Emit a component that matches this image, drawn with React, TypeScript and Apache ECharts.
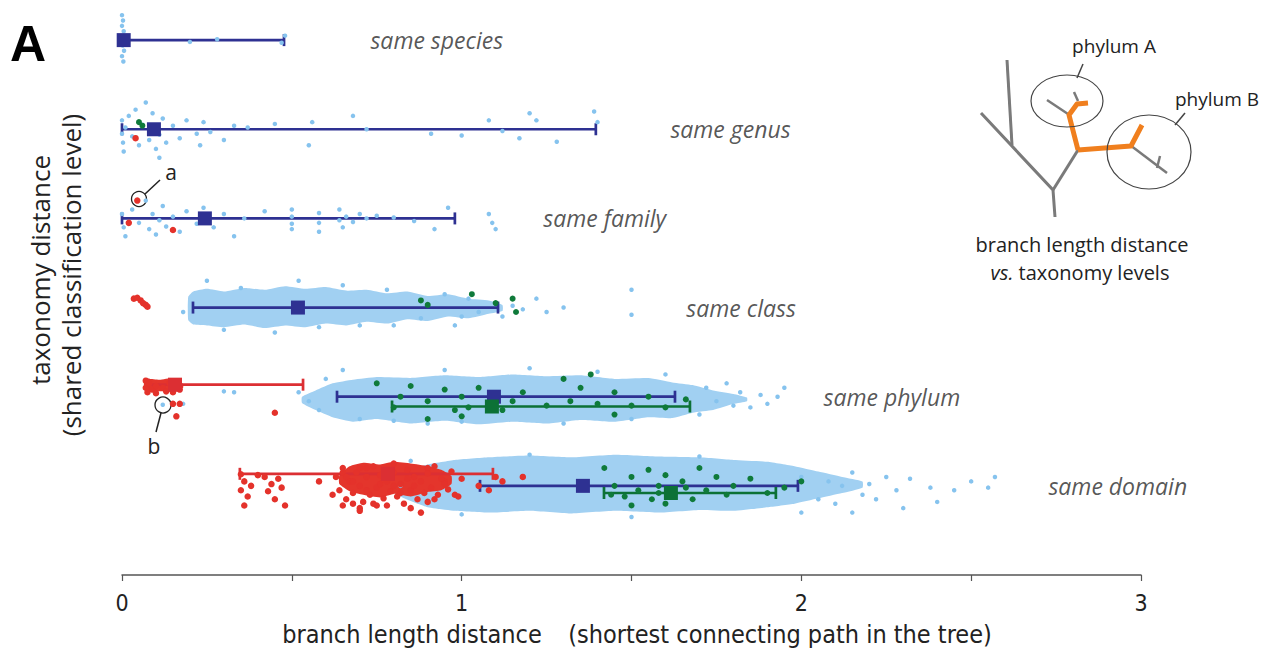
import React, { useEffect, useRef } from "react";
import * as echarts from "echarts";

// ---------- data ----------
const ROW_LABELS = ["same species", "same genus", "same family", "same class", "same phylum", "same domain"];
const ROW_LABEL_X = [0.73, 1.613, 1.239, 1.66, 2.064, 2.726];
const X_TICKS = [0, 0.5, 1, 1.5, 2, 2.5, 3];

// error bars: [low, high, row, colour index] (0 navy, 1 red, 2 green)
const BAR_LOW = [0.0, 0.0, 0.0, 0.209, 0.077, 0.633, 0.795, 0.347, 1.054, 1.419];
const BAR_HIGH = [0.477, 1.395, 0.98, 1.107, 0.533, 1.628, 1.672, 1.092, 1.99, 1.925];
const BAR_ROW = [0, 1, 2, 3, 3.865, 4, 4.11, 4.865, 5, 5.08];
const BAR_KIND = [0, 0, 0, 0, 1, 0, 2, 1, 0, 2];
const MEANS = [0.005, 0.094, 0.244, 0.518, 0.156, 1.095, 1.089, 0.783, 1.357, 1.616];

// dense clouds: centre row, colour, envelope [x, extent above, extent below] in rows
const BAND_ROW = [3, 4.03, 4.98, 4.93, 3.88];
const BAND_KIND = [0, 0, 0, 1, 1];
const BAND_CLASS = [[0.195, 0.12, 0.14], [0.21, 0.18, 0.19], [0.25, 0.21, 0.2], [0.3, 0.18, 0.22], [0.36, 0.22, 0.19], [0.42, 0.2, 0.23], [0.48, 0.24, 0.2], [0.54, 0.21, 0.22], [0.6, 0.23, 0.18], [0.66, 0.19, 0.2], [0.72, 0.2, 0.16], [0.78, 0.16, 0.18], [0.84, 0.18, 0.13], [0.9, 0.13, 0.15], [0.96, 0.15, 0.1], [1.02, 0.1, 0.12], [1.08, 0.08, 0.07], [1.12, 0.03, 0.04]];
const BAND_PHYLUM = [[0.53, 0.03, 0.04], [0.57, 0.1, 0.12], [0.62, 0.18, 0.2], [0.68, 0.22, 0.25], [0.75, 0.25, 0.22], [0.85, 0.24, 0.27], [0.95, 0.27, 0.24], [1.05, 0.25, 0.28], [1.15, 0.28, 0.25], [1.25, 0.26, 0.27], [1.35, 0.27, 0.23], [1.45, 0.23, 0.25], [1.55, 0.24, 0.2], [1.62, 0.19, 0.21], [1.68, 0.16, 0.15], [1.74, 0.1, 0.12], [1.8, 0.06, 0.05], [1.84, 0.02, 0.02]];
const BAND_DOMAIN = [[0.78, 0.04, 0.05], [0.83, 0.14, 0.16], [0.9, 0.22, 0.26], [0.98, 0.27, 0.3], [1.08, 0.3, 0.32], [1.2, 0.32, 0.3], [1.32, 0.3, 0.33], [1.45, 0.33, 0.3], [1.58, 0.31, 0.32], [1.7, 0.3, 0.29], [1.8, 0.27, 0.3], [1.9, 0.25, 0.26], [1.98, 0.2, 0.22], [2.05, 0.14, 0.16], [2.12, 0.08, 0.1], [2.18, 0.03, 0.04]];
const BAND_RED_DOMAIN = [[0.64, 0.05, 0.05], [0.67, 0.15, 0.13], [0.71, 0.19, 0.17], [0.76, 0.17, 0.2], [0.8, 0.2, 0.16], [0.85, 0.18, 0.19], [0.9, 0.15, 0.14], [0.94, 0.11, 0.12], [0.97, 0.04, 0.05]];
const BAND_RED_PHYLUM = [[0.065, 0.05, 0.04], [0.075, 0.08, 0.07], [0.11, 0.07, 0.06], [0.15, 0.09, 0.07], [0.17, 0.06, 0.05], [0.18, 0.02, 0.02]];

// scattered points: [x, row offset]
const BLUE_SPECIES = [[0.0, -0.28], [0.003, -0.22], [0.0, -0.16], [0.005, -0.1], [0.002, 0.06], [0.006, 0.12], [0.0, 0.18], [0.004, 0.24], [0.012, 0.02], [0.2, 0.02], [0.28, -0.01], [0.47, 0.03], [0.48, -0.05]];
const BLUE_GENUS = [[0.0, -0.1], [0.0, 0.05], [0.003, 0.15], [0.005, 0.25], [0.01, -0.02], [0.02, -0.15], [0.03, 0.08], [0.04, -0.22], [0.05, 0.18], [0.06, -0.05], [0.07, -0.3], [0.08, 0.12], [0.09, -0.18], [0.1, 0.22], [0.11, 0.06], [0.12, -0.12], [0.13, 0.15], [0.11, 0.32], [0.15, -0.04], [0.17, 0.1], [0.19, -0.1], [0.22, 0.05], [0.24, -0.08], [0.23, 0.18], [0.26, 0.03], [0.3, 0.12], [0.33, -0.04], [0.37, -0.02], [0.45, -0.06], [0.55, 0.18], [0.56, -0.08], [0.68, -0.15], [0.72, 0.0], [0.91, 0.05], [1.0, 0.07], [1.08, -0.1], [1.12, 0.02], [1.17, 0.1], [1.2, -0.18], [1.22, -0.1], [1.28, 0.14], [1.39, -0.2], [1.4, -0.08]];
const BLUE_FAMILY = [[0.0, -0.05], [0.005, 0.1], [0.01, 0.2], [0.03, -0.1], [0.05, 0.05], [0.07, -0.2], [0.08, 0.12], [0.09, -0.05], [0.1, 0.18], [0.11, 0.02], [0.12, -0.14], [0.13, 0.09], [0.15, -0.02], [0.17, 0.15], [0.19, -0.08], [0.22, 0.06], [0.24, -0.12], [0.27, 0.1], [0.3, -0.05], [0.33, 0.2], [0.36, 0.0], [0.42, -0.08], [0.5, -0.1], [0.5, -0.02], [0.5, 0.06], [0.5, 0.12], [0.58, -0.06], [0.58, 0.05], [0.58, 0.15], [0.64, -0.1], [0.64, 0.02], [0.65, 0.1], [0.66, -0.02], [0.68, 0.04], [0.7, -0.05], [0.72, 0.0], [0.75, -0.03], [0.8, -0.01], [0.86, 0.03], [0.92, 0.12], [0.96, -0.12], [1.08, -0.05], [1.09, 0.05], [1.1, 0.12]];
const BLUE_CLASS = [[0.18, 0.05], [0.25, -0.3], [0.3, 0.25], [0.35, -0.22], [0.45, 0.28], [0.52, -0.3], [0.58, 0.22], [0.65, -0.25], [0.7, 0.2], [0.78, -0.2], [0.8, 0.2], [0.88, 0.12], [0.95, -0.15], [0.98, 0.2], [1.02, -0.1], [1.05, 0.05], [1.0, 0.1], [1.12, 0.1], [1.15, -0.02], [1.18, 0.02], [1.22, -0.1], [1.25, 0.05], [1.3, 0.0], [1.5, -0.2], [1.5, 0.08]];
const BLUE_PHYLUM = [[0.12, 0.09], [0.18, 0.08], [0.3, -0.06], [0.33, -0.05], [0.52, -0.05], [0.55, 0.05], [0.58, 0.15], [0.6, -0.2], [0.65, -0.3], [0.7, 0.25], [0.8, 0.27], [0.9, 0.3], [0.95, -0.3], [1.0, 0.28], [1.2, -0.32], [1.3, 0.3], [1.4, -0.28], [1.5, 0.25], [1.6, -0.25], [1.7, 0.2], [1.72, -0.1], [1.75, 0.05], [1.78, -0.15], [1.8, 0.1], [1.82, -0.05], [1.85, 0.12], [1.88, -0.02], [1.9, 0.08], [1.93, 0.0], [1.95, -0.1]];
const BLUE_DOMAIN = [[0.82, 0.0], [0.85, -0.28], [1.0, 0.32], [1.2, -0.35], [1.5, 0.35], [1.7, -0.33], [2.0, -0.1], [2.05, 0.15], [2.08, -0.05], [2.1, 0.2], [2.12, 0.0], [2.15, -0.15], [2.18, 0.1], [2.2, -0.02], [2.22, 0.15], [2.25, -0.1], [2.28, 0.05], [2.3, 0.25], [2.32, -0.08], [2.38, 0.02], [2.4, 0.18], [2.45, 0.05], [2.5, -0.05], [2.55, 0.02], [2.57, -0.1], [2.15, 0.3], [2.0, 0.3]];

const RED_GENUS = [[0.04, 0.1]];
const RED_FAMILY = [[0.045, -0.2], [0.02, 0.05], [0.15, 0.13]];
const RED_CLASS = [[0.035, -0.1], [0.045, -0.11], [0.055, -0.08], [0.062, -0.05], [0.07, -0.03], [0.075, -0.01]];
const RED_PHYLUM = [[0.07, -0.18], [0.07, -0.1], [0.075, -0.05], [0.08, -0.15], [0.09, -0.08], [0.1, -0.12], [0.1, -0.04], [0.12, -0.1], [0.13, -0.06], [0.14, -0.15], [0.15, -0.05], [0.16, -0.1], [0.17, -0.08], [0.15, 0.08], [0.17, 0.08], [0.16, 0.22], [0.45, 0.18]];
const RED_DOMAIN = [[0.35, -0.13], [0.36, -0.05], [0.35, 0.05], [0.37, 0.12], [0.36, 0.22], [0.38, 0.0], [0.4, -0.12], [0.42, -0.1], [0.44, -0.02], [0.43, 0.06], [0.45, 0.15], [0.47, 0.02], [0.46, -0.08], [0.48, 0.22], [0.58, -0.05], [0.62, 0.1], [0.65, -0.15], [0.68, 0.2], [0.72, -0.2], [0.75, 0.22], [0.8, -0.25], [0.85, 0.25], [0.9, -0.2], [0.92, 0.15], [0.95, -0.05], [0.98, 0.1], [1.0, -0.08], [1.05, 0.0], [1.08, 0.05], [1.1, -0.1], [1.12, -0.05], [1.18, -0.1], [0.88, 0.3], [0.7, 0.28],
  [0.63, -0.1], [0.64, 0.05], [0.65, -0.2], [0.66, 0.15], [0.67, -0.05], [0.68, 0.08], [0.69, -0.15], [0.7, 0.0], [0.71, 0.18], [0.72, -0.1], [0.73, 0.1], [0.74, -0.22], [0.75, 0.02], [0.76, -0.12], [0.77, 0.14], [0.78, -0.05], [0.79, 0.06], [0.8, -0.15], [0.81, 0.12], [0.82, -0.02], [0.83, 0.2], [0.84, -0.18], [0.85, 0.05], [0.86, -0.1], [0.87, 0.15], [0.88, -0.05], [0.89, 0.08], [0.9, -0.14], [0.91, 0.02], [0.92, -0.22], [0.93, 0.1], [0.94, -0.08], [0.96, 0.04], [0.97, -0.16], [0.99, 0.12], [0.66, -0.1], [0.7, -0.2], [0.74, 0.2], [0.78, 0.22], [0.82, 0.08], [0.76, -0.02], [0.72, 0.05], [0.68, -0.05], [0.86, 0.0], [0.8, 0.0], [0.84, -0.08], [0.9, 0.18], [0.95, -0.02], [0.65, 0.22], [0.7, 0.25]];

const GREEN_GENUS = [[0.05, -0.08], [0.06, -0.04]];
const GREEN_CLASS = [[0.88, -0.08], [0.9, -0.03], [1.03, -0.15], [1.1, -0.05], [1.15, -0.1], [1.16, 0.05]];
const GREEN_PHYLUM = [[0.8, 0.12], [0.82, 0.0], [0.85, -0.12], [0.9, 0.05], [0.95, -0.08], [0.98, 0.15], [1.0, 0.0], [1.02, 0.12], [1.05, -0.1], [1.08, 0.08], [1.12, 0.15], [1.15, 0.05], [1.18, -0.05], [1.25, 0.1], [1.3, -0.2], [1.32, 0.05], [1.35, -0.1], [1.4, 0.08], [1.45, -0.05], [1.5, 0.1], [1.55, 0.0], [1.6, 0.12], [1.66, 0.03], [0.75, -0.15], [1.0, 0.22], [0.9, 0.25], [1.38, -0.25], [1.45, 0.2]];
const GREEN_DOMAIN = [[1.42, -0.2], [1.45, 0.0], [1.48, 0.12], [1.5, -0.1], [1.52, 0.05], [1.55, -0.18], [1.56, 0.15], [1.58, 0.0], [1.6, -0.12], [1.62, 0.1], [1.65, -0.05], [1.68, 0.15], [1.7, -0.2], [1.72, 0.05], [1.75, -0.1], [1.78, 0.1], [1.8, 0.0], [1.85, -0.08], [1.9, 0.08], [1.95, 0.02], [2.0, -0.05], [1.6, 0.2], [1.5, 0.22], [1.44, 0.1], [1.66, 0.02], [1.58, 0.08]];

// ---------- styles ----------
const COLORS = ["#2e3192", "#dc2f33", "#0c7136"];
const BAND_COLORS = ["#a1d0f2", "#e4352c"];
const BLUE_PT = "#86c3ee";
const SANS = "'Open Sans', 'Noto Sans', sans-serif";
const NARROW = "'Liberation Sans Narrow', 'DejaVu Sans Condensed', sans-serif";

function place(rowPts: number[][][], rows: number[]) {
  const out: number[][] = [];
  rowPts.forEach((pts, i) => pts.forEach((p) => out.push([p[0], rows[i] + p[1]])));
  return out;
}

export default function App() {
  const ref = useRef<HTMLDivElement>(null);
  useEffect(() => {
    if (!ref.current) return;
    const chart = echarts.init(ref.current, null, { renderer: "svg" });
    const bands = [BAND_CLASS, BAND_PHYLUM, BAND_DOMAIN, BAND_RED_DOMAIN, BAND_RED_PHYLUM];
    const blue = place([BLUE_SPECIES, BLUE_GENUS, BLUE_FAMILY, BLUE_CLASS, BLUE_PHYLUM, BLUE_DOMAIN], [0, 1, 2, 3, 4, 5]);
    const red = place([RED_GENUS, RED_FAMILY, RED_CLASS, RED_PHYLUM, RED_DOMAIN], [1, 2, 3, 4, 5]);
    const green = place([GREEN_GENUS, GREEN_CLASS, GREEN_PHYLUM, GREEN_DOMAIN], [1, 3, 4, 5]);
    const bars = BAR_LOW.map((lo, i) => [lo, BAR_HIGH[i], BAR_ROW[i], BAR_KIND[i]]);
    const means = MEANS.map((m, i) => ({ value: [m, BAR_ROW[i]], itemStyle: { color: COLORS[BAR_KIND[i]], opacity: 1 } }));

    const gray = "#7a7a7a";
    const orange = "#f07f1e";
    const tree: any[] = [
      { type: "polyline", shape: { points: [[981, 113], [1053, 190], [1055, 217]] }, style: { stroke: gray, lineWidth: 3, fill: null } },
      { type: "line", shape: { x1: 1007, y1: 60, x2: 1012, y2: 145 }, style: { stroke: gray, lineWidth: 3 } },
      { type: "line", shape: { x1: 1053, y1: 190, x2: 1078, y2: 150 }, style: { stroke: gray, lineWidth: 3 } },
      { type: "line", shape: { x1: 1047, y1: 100, x2: 1068, y2: 114 }, style: { stroke: gray, lineWidth: 2.5 } },
      { type: "line", shape: { x1: 1074, y1: 92, x2: 1078, y2: 101 }, style: { stroke: gray, lineWidth: 2.5 } },
      { type: "line", shape: { x1: 1130, y1: 145, x2: 1167, y2: 173 }, style: { stroke: gray, lineWidth: 2.5 } },
      { type: "line", shape: { x1: 1160, y1: 156, x2: 1157, y2: 168 }, style: { stroke: gray, lineWidth: 2.5 } },
      { type: "polyline", shape: { points: [[1078, 150], [1069, 115], [1077, 104], [1088, 103]] }, style: { stroke: orange, lineWidth: 5, fill: null, lineJoin: "round" } },
      { type: "polyline", shape: { points: [[1078, 150], [1131, 146], [1142, 125]] }, style: { stroke: orange, lineWidth: 5, fill: null, lineJoin: "round" } },
      { type: "ellipse", shape: { cx: 1067, cy: 101, rx: 36, ry: 26 }, style: { stroke: "#444", lineWidth: 1.2, fill: null } },
      { type: "ellipse", shape: { cx: 1149, cy: 152, rx: 42, ry: 37 }, style: { stroke: "#444", lineWidth: 1.2, fill: null } },
      { type: "line", shape: { x1: 1077, y1: 78, x2: 1083, y2: 64 }, style: { stroke: "#444", lineWidth: 1.5 } },
      { type: "line", shape: { x1: 1175, y1: 125, x2: 1185, y2: 113 }, style: { stroke: "#444", lineWidth: 1.5 } },
      { type: "text", x: 1114, y: 46, style: { text: "phylum A", font: `19px ${SANS}`, fill: "#222", textAlign: "center", textVerticalAlign: "middle" } },
      { type: "text", x: 1217, y: 99, style: { text: "phylum B", font: `19px ${SANS}`, fill: "#222", textAlign: "center", textVerticalAlign: "middle" } },
      { type: "text", x: 1082, y: 244, style: { text: "branch length distance", font: `20px ${SANS}`, fill: "#222", textAlign: "center", textVerticalAlign: "middle" } },
      {
        type: "text", x: 1080, y: 272, style: {
          text: "{i|vs.} taxonomy levels", font: `20px ${SANS}`, fill: "#222", textAlign: "center", textVerticalAlign: "middle",
          rich: { i: { fontStyle: "italic", fontSize: 20, fontFamily: SANS, fill: "#222" } },
        },
      },
    ];

    const annotations: any[] = [
      { type: "text", x: 28, y: 44, style: { text: "A", font: `bold 50px 'Liberation Sans', Arial, sans-serif`, fill: "#000", textAlign: "center", textVerticalAlign: "middle" } },
      { type: "circle", shape: { cx: 139, cy: 199, r: 7.5 }, style: { stroke: "#222", lineWidth: 1.3, fill: null } },
      { type: "line", shape: { x1: 145, y1: 194, x2: 160, y2: 180 }, style: { stroke: "#222", lineWidth: 1.5 } },
      { type: "text", x: 171, y: 172, style: { text: "a", font: `21px ${SANS}`, fill: "#222", textAlign: "center", textVerticalAlign: "middle" } },
      { type: "circle", shape: { cx: 163, cy: 405, r: 8 }, style: { stroke: "#222", lineWidth: 1.3, fill: null } },
      { type: "line", shape: { x1: 161, y1: 413, x2: 156, y2: 432 }, style: { stroke: "#222", lineWidth: 1.5 } },
      { type: "text", x: 154, y: 446, style: { text: "b", font: `21px ${SANS}`, fill: "#222", textAlign: "center", textVerticalAlign: "middle" } },
      { type: "text", x: 40, y: 270, rotation: Math.PI / 2, style: { text: "taxonomy distance", font: `26px ${SANS}`, fill: "#222", textAlign: "center", textVerticalAlign: "middle" } },
      { type: "text", x: 71, y: 275, rotation: Math.PI / 2, style: { text: "(shared classification level)", font: `26px ${SANS}`, fill: "#222", textAlign: "center", textVerticalAlign: "middle" } },
      { type: "text", x: 412, y: 634, style: { text: "branch length distance", font: `25px ${NARROW}`, fill: "#222", textAlign: "center", textVerticalAlign: "middle" } },
      { type: "text", x: 780, y: 634, style: { text: "(shortest connecting path in the tree)", font: `25px ${NARROW}`, fill: "#222", textAlign: "center", textVerticalAlign: "middle" } },
    ];

    chart.setOption({
      animation: false,
      backgroundColor: "#ffffff",
      grid: { left: 122, right: 127, top: 0, bottom: 83, containLabel: false },
      xAxis: {
        type: "value", min: X_TICKS[0], max: X_TICKS[X_TICKS.length - 1], interval: 0.5, position: "bottom",
        axisLine: { show: true, onZero: false, lineStyle: { color: "#555", width: 1.5 } },
        axisTick: { show: true, length: 6, lineStyle: { color: "#555", width: 1.2 } },
        splitLine: { show: false },
        axisLabel: {
          margin: 16, fontSize: 23, color: "#222", fontFamily: NARROW,
          formatter: (v: number) => (Number.isInteger(v) ? String(v) : ""),
        },
      },
      yAxis: { type: "value", inverse: true, min: -0.45, max: 6, show: false },
      series: [
        {
          type: "custom", silent: true,
          data: bands.map((_, i) => [i, BAND_ROW[i]]),
          encode: { x: 0, y: 1 },
          renderItem: (params: any, api: any) => {
            const idx = api.value(0);
            const env = bands[idx];
            const row = BAND_ROW[idx];
            const top = env.map((p) => api.coord([p[0], row - p[1]]));
            const bottom = env.slice().reverse().map((p) => api.coord([p[0], row + p[2]]));
            return { type: "polygon", shape: { points: top.concat(bottom), smooth: 0.15 }, style: { fill: BAND_COLORS[BAND_KIND[idx]] } };
          },
        },
        { type: "scatter", data: blue, symbolSize: 4.5, itemStyle: { color: BLUE_PT, opacity: 1 }, silent: true },
        { type: "scatter", data: red, symbolSize: 6.5, itemStyle: { color: "#e4322b", opacity: 1 }, silent: true },
        { type: "scatter", data: green, symbolSize: 6, itemStyle: { color: "#0f7a3a", opacity: 1 }, silent: true },
        {
          type: "custom", silent: true, data: bars, encode: { x: [0, 1], y: 2 },
          renderItem: (params: any, api: any) => {
            const lo = api.coord([api.value(0), api.value(2)]);
            const hi = api.coord([api.value(1), api.value(2)]);
            const c = COLORS[api.value(3)];
            const s = { stroke: c, lineWidth: 2.7 };
            return {
              type: "group", children: [
                { type: "line", shape: { x1: lo[0], y1: lo[1], x2: hi[0], y2: hi[1] }, style: s },
                { type: "line", shape: { x1: lo[0], y1: lo[1] - 6, x2: lo[0], y2: lo[1] + 6 }, style: s },
                { type: "line", shape: { x1: hi[0], y1: hi[1] - 6, x2: hi[0], y2: hi[1] + 6 }, style: s },
              ],
            };
          },
        },
        { type: "scatter", data: means, symbol: "rect", symbolSize: 14, silent: true },
        {
          type: "scatter", silent: true, symbolSize: 1, itemStyle: { color: "rgba(0,0,0,0)" },
          data: ROW_LABELS.map((t, i) => [ROW_LABEL_X[i], i, t]),
          label: {
            show: true, position: "right", distance: 0, fontSize: 23, fontStyle: "italic",
            fontFamily: SANS, color: "#2b2b2b", formatter: (p: any) => p.data[2],
          },
        },
      ],
      graphic: tree.concat(annotations),
    });
    return () => chart.dispose();
  }, []);
  return <div ref={ref} style={{ width: 1268, height: 658, margin: -8 }} />;
}
